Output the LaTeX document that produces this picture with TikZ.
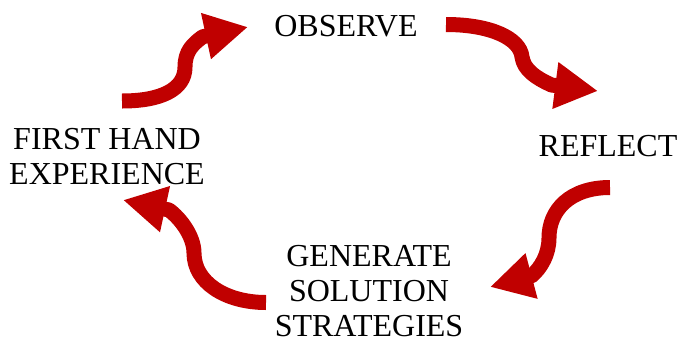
\documentclass[tikz,border=0pt]{standalone}
\usepackage{fontspec}
\setmainfont{Liberation Serif}
\usetikzlibrary{arrows.meta}
\definecolor{cyclered}{HTML}{C00000}

\begin{document}
\begin{tikzpicture}[x=1pt,y=-1pt,
                    step node/.style={align=center,inner sep=0pt,font=\fontsize{32}{35}\selectfont},
                    cycle arrow/.style={draw=cyclered,line width=15pt,line join=round,
                      -{Triangle[length=43pt,width=44pt]}}]
  \useasboundingbox (0,0) rectangle (680,346);

  \node[step node] (1) at (346,26) {OBSERVE};
  \node[step node] (2) at (608,146) {REFLECT};
  \node[step node] (3) at (369,291.5) {GENERATE\\SOLUTION\\STRATEGIES};
  \node[step node] (4) at (107,157) {FIRST HAND\\EXPERIENCE};

  % arrow ends
  \coordinate (41) at (122,101);  \coordinate (14) at (248,27);
  \coordinate (12) at (446,24.5); \coordinate (21) at (598,91);
  \coordinate (23) at (610,187.5);\coordinate (32) at (490,287);
  \coordinate (34) at (266,302.5);\coordinate (43) at (123,200);

  \path[cycle arrow] (41) .. controls (160,101) and (185,90) .. (185,67)
                          .. controls (185,51) and (193,44) .. (202.6,36.8) -- (14);
  \path[cycle arrow] (12) .. controls (490,24.5) and (520,38) .. (522,57)
                          .. controls (524,70) and (536,78) .. (551.5,85) -- (21);
  \path[cycle arrow] (23) .. controls (570,187.5) and (549,210) .. (549,238)
                          .. controls (549,254) and (541,268) .. (531.4,276) -- (32);
  \path[cycle arrow] (34) .. controls (225,302.5) and (194,282) .. (194,253)
                          .. controls (194,236) and (180,218) .. (169,210) -- (43);
\end{tikzpicture}
\end{document}
